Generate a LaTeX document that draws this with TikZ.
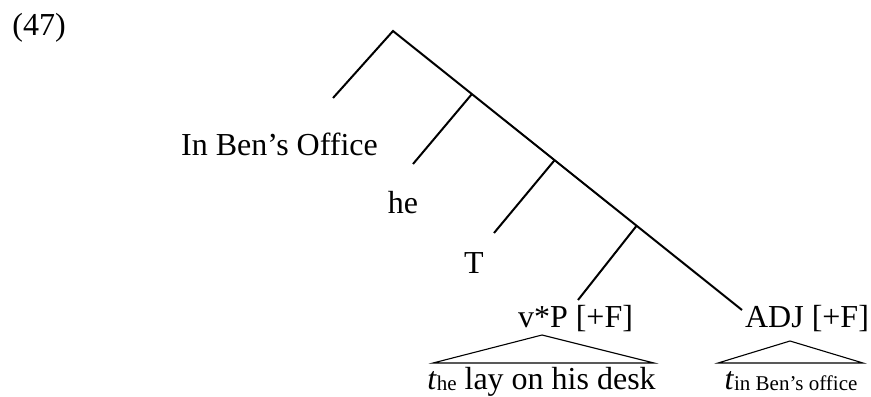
\documentclass[tikz,border=0pt]{standalone}
\usepackage{fontspec}
\setmainfont{Liberation Serif}
\usetikzlibrary{calc}
\begin{document}
\begin{tikzpicture}[x=0.5pt,y=-0.5pt,
  branch/.style={line width=1pt},
  tri/.style={line width=0.55pt},
  lab/.style={inner sep=0pt,anchor=base,font=\fontsize{16}{19}\selectfont}]
\useasboundingbox (0,0) rectangle (871,396);
\node[lab,anchor=base west] (num) at (12,35) {(47)};
% tree skeleton
\coordinate (top) at (393,31);
\coordinate (spineend) at (742,310);
\coordinate (b1) at ($(top)!0.226!(spineend)$);
\coordinate (b2) at ($(top)!0.463!(spineend)$);
\coordinate (b3) at ($(top)!0.698!(spineend)$);
\coordinate (l0) at (333,98);
\coordinate (l1) at (413,164);
\coordinate (l2) at (494,233);
\coordinate (l3) at (578,300);
% labels
\node[lab] (office) at (279.5,155) {In Ben’s Office};
\node[lab] (he) at (403,213) {he};
\node[lab] (T) at (474,273) {T};
\node[lab] (vp) at (575.5,327) {v*P [+F]};
\node[lab] (adj) at (807,327) {ADJ [+F]};
\node[lab] (vpt) at (541.5,389) {\textit{t}\raisebox{-0.5pt}{\fontsize{10.5}{12}\selectfont he} lay on his desk};
\node[lab] (adjt) at (791,389) {\textit{t}\raisebox{-0.5pt}{\fontsize{10.5}{12}\selectfont in Ben’s office}};
% branches
\draw[branch] (l0) -- (top) -- (spineend);
\draw[branch] (b1) -- (l1);
\draw[branch] (b2) -- (l2);
\draw[branch] (b3) -- (l3);
% triangles
\coordinate (vpa) at (542,335);
\coordinate (vpl) at (433,363);
\coordinate (vpr) at (654,363);
\coordinate (adja) at (790,341);
\coordinate (adjl) at (718,363);
\coordinate (adjr) at (863,363);
\draw[tri] (vpl) -- (vpa) -- (vpr) -- cycle;
\draw[tri] (adjl) -- (adja) -- (adjr) -- cycle;
\end{tikzpicture}
\end{document}
